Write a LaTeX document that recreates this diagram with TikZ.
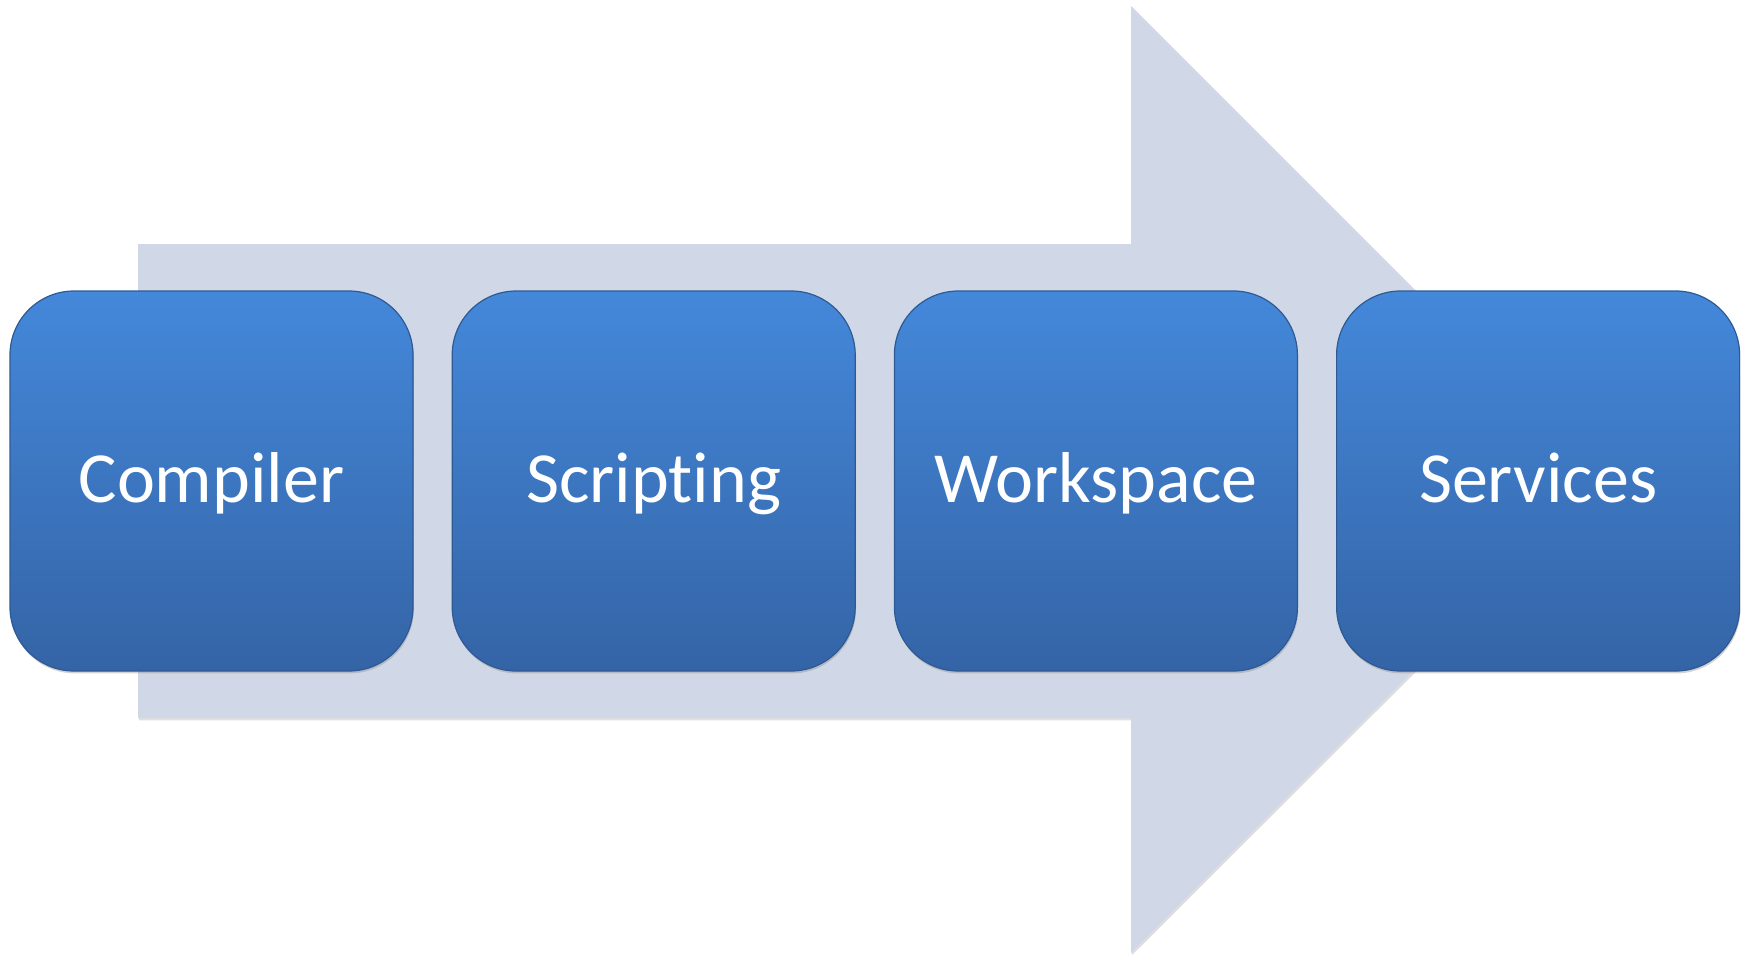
\documentclass[tikz,border=0pt]{standalone}
\usepackage{fontspec}
\setmainfont{Carlito}[Ligatures=NoCommon]
\usetikzlibrary{positioning,shadows}
\definecolor{boxtop}{HTML}{4488DA}
\definecolor{boxbot}{HTML}{3464A6}
\definecolor{boxrim}{HTML}{2E5A94}
\definecolor{arrowfill}{HTML}{D0D8E8}

\tikzset{
  stage/.style={rectangle, rounded corners=32pt, minimum width=201.5pt,
    minimum height=190pt, inner sep=0pt, top color=boxtop, bottom color=boxbot,
    draw=boxrim, line width=0.6pt, text=white,
    font=\fontsize{36}{40}\selectfont, text height=21pt, text depth=0pt,
    drop shadow={shadow xshift=0.4pt, shadow yshift=-1.2pt, opacity=0.35}},
  bigarrow/.style={fill=arrowfill,
    drop shadow={shadow xshift=0.4pt, shadow yshift=-1.2pt, opacity=0.25}},
}

\begin{document}
\begin{tikzpicture}[x=0.5pt, y=-0.5pt]
  \useasboundingbox (0,0) rectangle (1750,960);
  % background arrow
  \path[bigarrow] (138,244) -- (1131,244) -- (1131,6) -- (1605,480)
    -- (1131,953) -- (1131,718) -- (138,718) -- cycle;
  % stages
  \node[stage] (compiler) at (211.5,481) {Compiler};
  \node[stage, right=19pt of compiler] (scripting) {Scripting};
  \node[stage, right=19pt of scripting] (workspace) {Workspace};
  \node[stage, right=19pt of workspace] (services) {Services};
\end{tikzpicture}
\end{document}
